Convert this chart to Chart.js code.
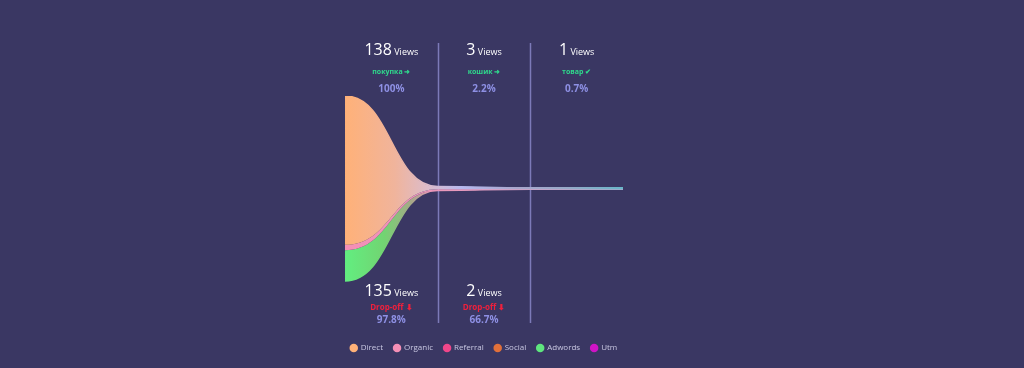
<!DOCTYPE html>
<html>
<head>
<meta charset="utf-8">
<script src="https://cdn.jsdelivr.net/npm/chart.js@4.4.0/dist/chart.umd.min.js"></script>
<style>
  html, body { margin: 0; padding: 0; background: #3a3763; }
  #wrap { width: 1024px; height: 368px; }
</style>
</head>
<body>
<div id="wrap"><canvas id="funnel"></canvas></div>
<script>
// stages of the funnel
const stages = ["покупка", "кошик", "товар"];
const stageIcons = ["➜", "➜", "✔"];
const stageViews = [138, 3, 1];
const stagePct = ["100%", "2.2%", "0.7%"];
const dropViews = [135, 2];
const dropPct = ["97.8%", "66.7%"];

// views per source, per stage
const direct = [111, 2, 1];
const organic = [4, 1, 0];
const referral = [0, 0, 0];
const social = [0, 0, 0];
const adwords = [23, 0, 0];
const utm = [0, 0, 0];

const directStops = [[0, "#ffb178"], [0.18, "#f0b49c"], [0.3, "#dcbccb"], [0.42, "#b6b8ee"], [0.62, "#a8a6cc"], [0.8, "#97a9c8"], [1, "#68b6c8"]];
const adwordsStops = [[0, "#62ee80"], [0.14, "#72d472"], [0.24, "#a8a888"], [0.31, "#e898b8"], [0.6, "#d8a0c4"], [1, "#a8a8cc"]];

const sources = [
  { name: "Direct", values: direct, color: "#ffb178", stops: directStops },
  { name: "Organic", values: organic, color: "#f58fb6",
    stops: [[0, "#f58fb6"], [0.5, "#e99ac0"], [1, "#d9a0c6"]] },
  { name: "Referral", values: referral, color: "#f0468a", stops: [[0, "#f0468a"], [1, "#f0468a"]] },
  { name: "Social", values: social, color: "#e2703a", stops: [[0, "#e2703a"], [1, "#e2703a"]] },
  { name: "Adwords", values: adwords, color: "#5ee67e", stops: adwordsStops, edge: true },
  { name: "Utm", values: utm, color: "#cf14c6", stops: [[0, "#cf14c6"], [1, "#cf14c6"]] },
];

// horizontal gradient across the funnel, from first to last stage
function gradient(chart, stops, fallback) {
  const xScale = chart.scales.x;
  if (!chart.chartArea || !xScale) return fallback;
  const g = chart.ctx.createLinearGradient(xScale.getPixelForValue(0), 0, xScale.getPixelForValue(stages.length), 0);
  stops.forEach(s => g.addColorStop(s[0], s[1]));
  return g;
}

// edges of the bands, centred on 0; last stage repeated for the tail
const xs = [0, 1, 2, 3];
function atStage(arr, i) { return arr[Math.min(i, arr.length - 1)]; }

let edge = xs.map(i => atStage(stageViews, i) / 2);
const datasets = [{
  label: "top",
  data: xs.map((x, i) => ({ x: x, y: edge[i] })),
  fill: false,
  borderWidth: 1.5,
  borderColor: (ctx) => gradient(ctx.chart, directStops, "#ffb178"),
  pointRadius: 0,
  tension: 0.4,
}];
sources.forEach(s => {
  edge = edge.map((e, i) => e - atStage(s.values, i));
  datasets.push({
    label: s.name,
    data: xs.map((x, i) => ({ x: x, y: edge[i] })),
    fill: "-1",
    backgroundColor: (ctx) => gradient(ctx.chart, s.stops, s.color),
    borderColor: (ctx) => gradient(ctx.chart, s.stops, s.color),
    borderWidth: s.edge ? 1.5 : 0,
    pointRadius: 0,
    pointBackgroundColor: s.color,
    pointBorderWidth: 0,
    tension: 0.4,
  });
});

// smooth s-curves between stages: control points at the middle of each step
const curvePlugin = {
  id: "curves",
  beforeDatasetsDraw(chart) {
    chart.getSortedVisibleDatasetMetas().forEach(meta => {
      const pts = meta.data;
      pts.forEach((p, i) => {
        const prev = pts[i - 1] || p;
        const next = pts[i + 1] || p;
        p.cp1x = (prev.x + p.x) / 2; p.cp1y = p.y;
        p.cp2x = (p.x + next.x) / 2; p.cp2y = p.y;
      });
      meta.dataset._pointsUpdated = true;
    });
  }
};

const FONT = "'Open Sans', sans-serif";

function viewsText(ctx, num, cx, y) {
  ctx.font = "16px " + FONT;
  const w1 = ctx.measureText(String(num)).width;
  ctx.font = "9px " + FONT;
  const w2 = ctx.measureText(" Views").width;
  let x = cx - (w1 + w2) / 2;
  ctx.textAlign = "left";
  ctx.textBaseline = "alphabetic";
  ctx.fillStyle = "#ffffff";
  ctx.font = "16px " + FONT;
  ctx.fillText(String(num), x, y);
  ctx.font = "9px " + FONT;
  ctx.fillText(" Views", x + w1, y);
}

const labelPlugin = {
  id: "stageLabels",
  beforeDatasetsDraw(chart) {
    const { ctx, chartArea, scales: { x, y } } = chart;
    const bottom = y.getPixelForValue(-stageViews[0] / 2);
    ctx.save();
    ctx.strokeStyle = "#7c7ab8";
    ctx.lineWidth = 1.5;
    for (let i = 1; i < stages.length; i++) {
      const px = Math.round(x.getPixelForValue(i)) + 0.5;
      ctx.beginPath();
      ctx.moveTo(px, chartArea.top - 53);
      ctx.lineTo(px, bottom + 42);
      ctx.stroke();
    }
    ctx.restore();
  },
  afterDatasetsDraw(chart) {
    const { ctx, chartArea, scales: { x, y } } = chart;
    const top = chartArea.top;
    const bottom = y.getPixelForValue(-stageViews[0] / 2);
    ctx.save();
    stages.forEach((name, i) => {
      const cx = x.getPixelForValue(i + 0.5);
      viewsText(ctx, stageViews[i], cx, top - 41);
      ctx.textAlign = "center";
      ctx.textBaseline = "middle";
      ctx.font = "bold 7px " + FONT;
      ctx.fillStyle = "#2fd98c";
      ctx.fillText(name + " " + stageIcons[i], cx, top - 24);
      ctx.font = "bold 10px " + FONT;
      ctx.fillStyle = "#8e90e4";
      ctx.fillText(stagePct[i], cx, top - 7);
    });
    dropViews.forEach((v, i) => {
      const cx = x.getPixelForValue(i + 0.5);
      viewsText(ctx, v, cx, bottom + 15);
      ctx.textAlign = "center";
      ctx.textBaseline = "middle";
      ctx.font = "bold 8px " + FONT;
      ctx.fillStyle = "#f0203c";
      ctx.fillText("Drop-off ⬇", cx, bottom + 27);
      ctx.font = "bold 10px " + FONT;
      ctx.fillStyle = "#8e90e4";
      ctx.fillText(dropPct[i], cx, bottom + 39);
    });
    ctx.restore();
  }
};

new Chart("funnel", {
  type: "line",
  data: { datasets: datasets },
  options: {
    responsive: true,
    maintainAspectRatio: false,
    animation: false,
    layout: { padding: { left: 320, right: 376, top: 96, bottom: 6 } },
    scales: {
      x: { type: "linear", min: -0.27, max: 3.27, display: false },
      y: { type: "linear", min: -107.8, max: 69, display: false },
    },
    plugins: {
      tooltip: { enabled: false },
      legend: {
        position: "bottom",
        labels: {
          usePointStyle: true,
          pointStyle: "circle",
          boxWidth: 6,
          boxHeight: 6,
          padding: 11,
          color: "#c9c8e2",
          font: { family: FONT, size: 8 },
          filter: (item) => item.text !== "top",
        },
      },
    },
  },
  plugins: [curvePlugin, labelPlugin],
});
</script>
</body>
</html>
